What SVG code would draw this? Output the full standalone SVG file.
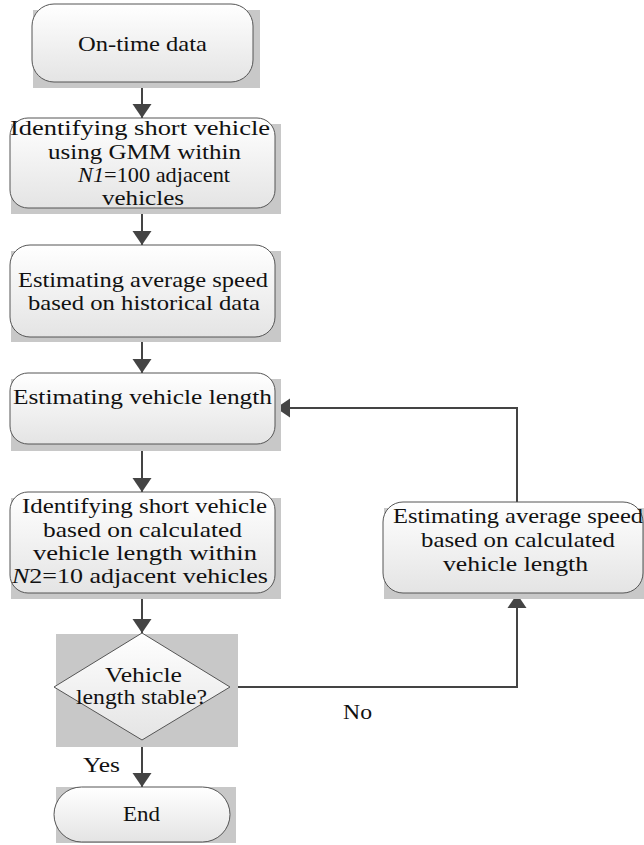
<svg xmlns="http://www.w3.org/2000/svg" width="644" height="845" viewBox="0 0 644 845">
<style>
.sh{fill:#c8c8c8}
.bx{fill:url(#g);stroke:#555;stroke-width:1}
.t{font-family:"Liberation Serif","Times New Roman",serif;font-size:21px;fill:#111}
.c{fill:none;stroke:#444;stroke-width:2}
</style>
<defs>
<linearGradient id="g" x1="0" y1="0" x2="0" y2="1">
<stop offset="0" stop-color="#ffffff"/>
<stop offset="1" stop-color="#e4e4e4"/>
</linearGradient>
<marker id="a" markerUnits="userSpaceOnUse" markerWidth="20" markerHeight="20" viewBox="0 0 14 20" refX="14" refY="10" orient="auto">
<polygon points="0,0.5 14,10 0,19.5" fill="#444"/>
</marker>
</defs>
<rect width="644" height="845" fill="#fff"/>
<g id="connectors">
<line class="c" x1="142" y1="82" x2="142" y2="118" marker-end="url(#a)"/>
<line class="c" x1="142" y1="208" x2="142" y2="245" marker-end="url(#a)"/>
<line class="c" x1="142" y1="337" x2="142" y2="373" marker-end="url(#a)"/>
<line class="c" x1="142" y1="444" x2="142" y2="492" marker-end="url(#a)"/>
<line class="c" x1="142" y1="593" x2="142" y2="633" marker-end="url(#a)"/>
<line class="c" x1="142" y1="740" x2="142" y2="787" marker-end="url(#a)"/>
<polyline class="c" points="230,687 517,687 517,594" marker-end="url(#a)"/>
<polyline class="c" points="517,502 517,408 276,408" marker-end="url(#a)"/>
</g>
<g id="n1">
<rect class="sh" x="33" y="10" width="227" height="78"/>
<rect class="bx" x="32" y="4" width="221" height="78" rx="22"/>
<text class="t" x="78" y="51" textLength="129" lengthAdjust="spacingAndGlyphs">On-time data</text>
</g>
<g id="n2">
<rect class="sh" x="11" y="124" width="270" height="90"/>
<rect class="bx" x="10" y="118" width="265" height="90" rx="18"/>
<text class="t" x="10" y="135" textLength="260" lengthAdjust="spacingAndGlyphs">Identifying short vehicle</text>
<text class="t" x="48" y="159" textLength="193" lengthAdjust="spacingAndGlyphs">using GMM within</text>
<text class="t" x="78" y="182" textLength="152" lengthAdjust="spacingAndGlyphs"><tspan font-style="italic">N1</tspan>=100 adjacent</text>
<text class="t" x="102" y="205" textLength="82" lengthAdjust="spacingAndGlyphs">vehicles</text>
</g>
<g id="n3">
<rect class="sh" x="11" y="251" width="270" height="91"/>
<rect class="bx" x="10" y="245" width="265" height="92" rx="20"/>
<text class="t" x="18" y="287" textLength="250" lengthAdjust="spacingAndGlyphs">Estimating average speed</text>
<text class="t" x="28" y="310" textLength="232" lengthAdjust="spacingAndGlyphs">based on historical data</text>
</g>
<g id="n4">
<rect class="sh" x="11" y="379" width="270" height="72"/>
<rect class="bx" x="10" y="373" width="265" height="71" rx="18"/>
<text class="t" x="13" y="404" textLength="259" lengthAdjust="spacingAndGlyphs">Estimating vehicle length</text>
</g>
<g id="n5">
<rect class="sh" x="11" y="498" width="270" height="101"/>
<rect class="bx" x="10" y="492" width="265" height="101" rx="18"/>
<text class="t" x="22" y="513" textLength="245" lengthAdjust="spacingAndGlyphs">Identifying short vehicle</text>
<text class="t" x="43" y="537" textLength="199" lengthAdjust="spacingAndGlyphs">based on calculated</text>
<text class="t" x="33" y="560" textLength="224" lengthAdjust="spacingAndGlyphs">vehicle length within</text>
<text class="t" x="12" y="583" textLength="256" lengthAdjust="spacingAndGlyphs"><tspan font-style="italic">N</tspan>2=10 adjacent vehicles</text>
</g>
<g id="n6">
<rect class="sh" x="56" y="634" width="182" height="113"/>
<polygon class="bx" points="142,633 230,687 142,740 54,687"/>
<text class="t" x="105" y="682" textLength="77" lengthAdjust="spacingAndGlyphs">Vehicle</text>
<text class="t" x="76" y="704" textLength="131" lengthAdjust="spacingAndGlyphs">length stable?</text>
</g>
<g id="n7">
<rect class="sh" x="56" y="787" width="180" height="56"/>
<rect class="bx" x="54" y="787" width="176" height="55" rx="27.5"/>
<text class="t" x="123" y="821" textLength="37" lengthAdjust="spacingAndGlyphs">End</text>
</g>
<g id="n8">
<rect class="sh" x="384" y="508" width="265" height="91"/>
<rect class="bx" x="383" y="502" width="260" height="91" rx="20"/>
<text class="t" x="393" y="523" textLength="250" lengthAdjust="spacingAndGlyphs">Estimating average speed</text>
<text class="t" x="421" y="547" textLength="194" lengthAdjust="spacingAndGlyphs">based on calculated</text>
<text class="t" x="443" y="571" textLength="145" lengthAdjust="spacingAndGlyphs">vehicle length</text>
</g>
<g id="labels">
<text class="t" x="83" y="772" textLength="37" lengthAdjust="spacingAndGlyphs">Yes</text>
<text class="t" x="343" y="719" textLength="29" lengthAdjust="spacingAndGlyphs">No</text>
</g>
</svg>
